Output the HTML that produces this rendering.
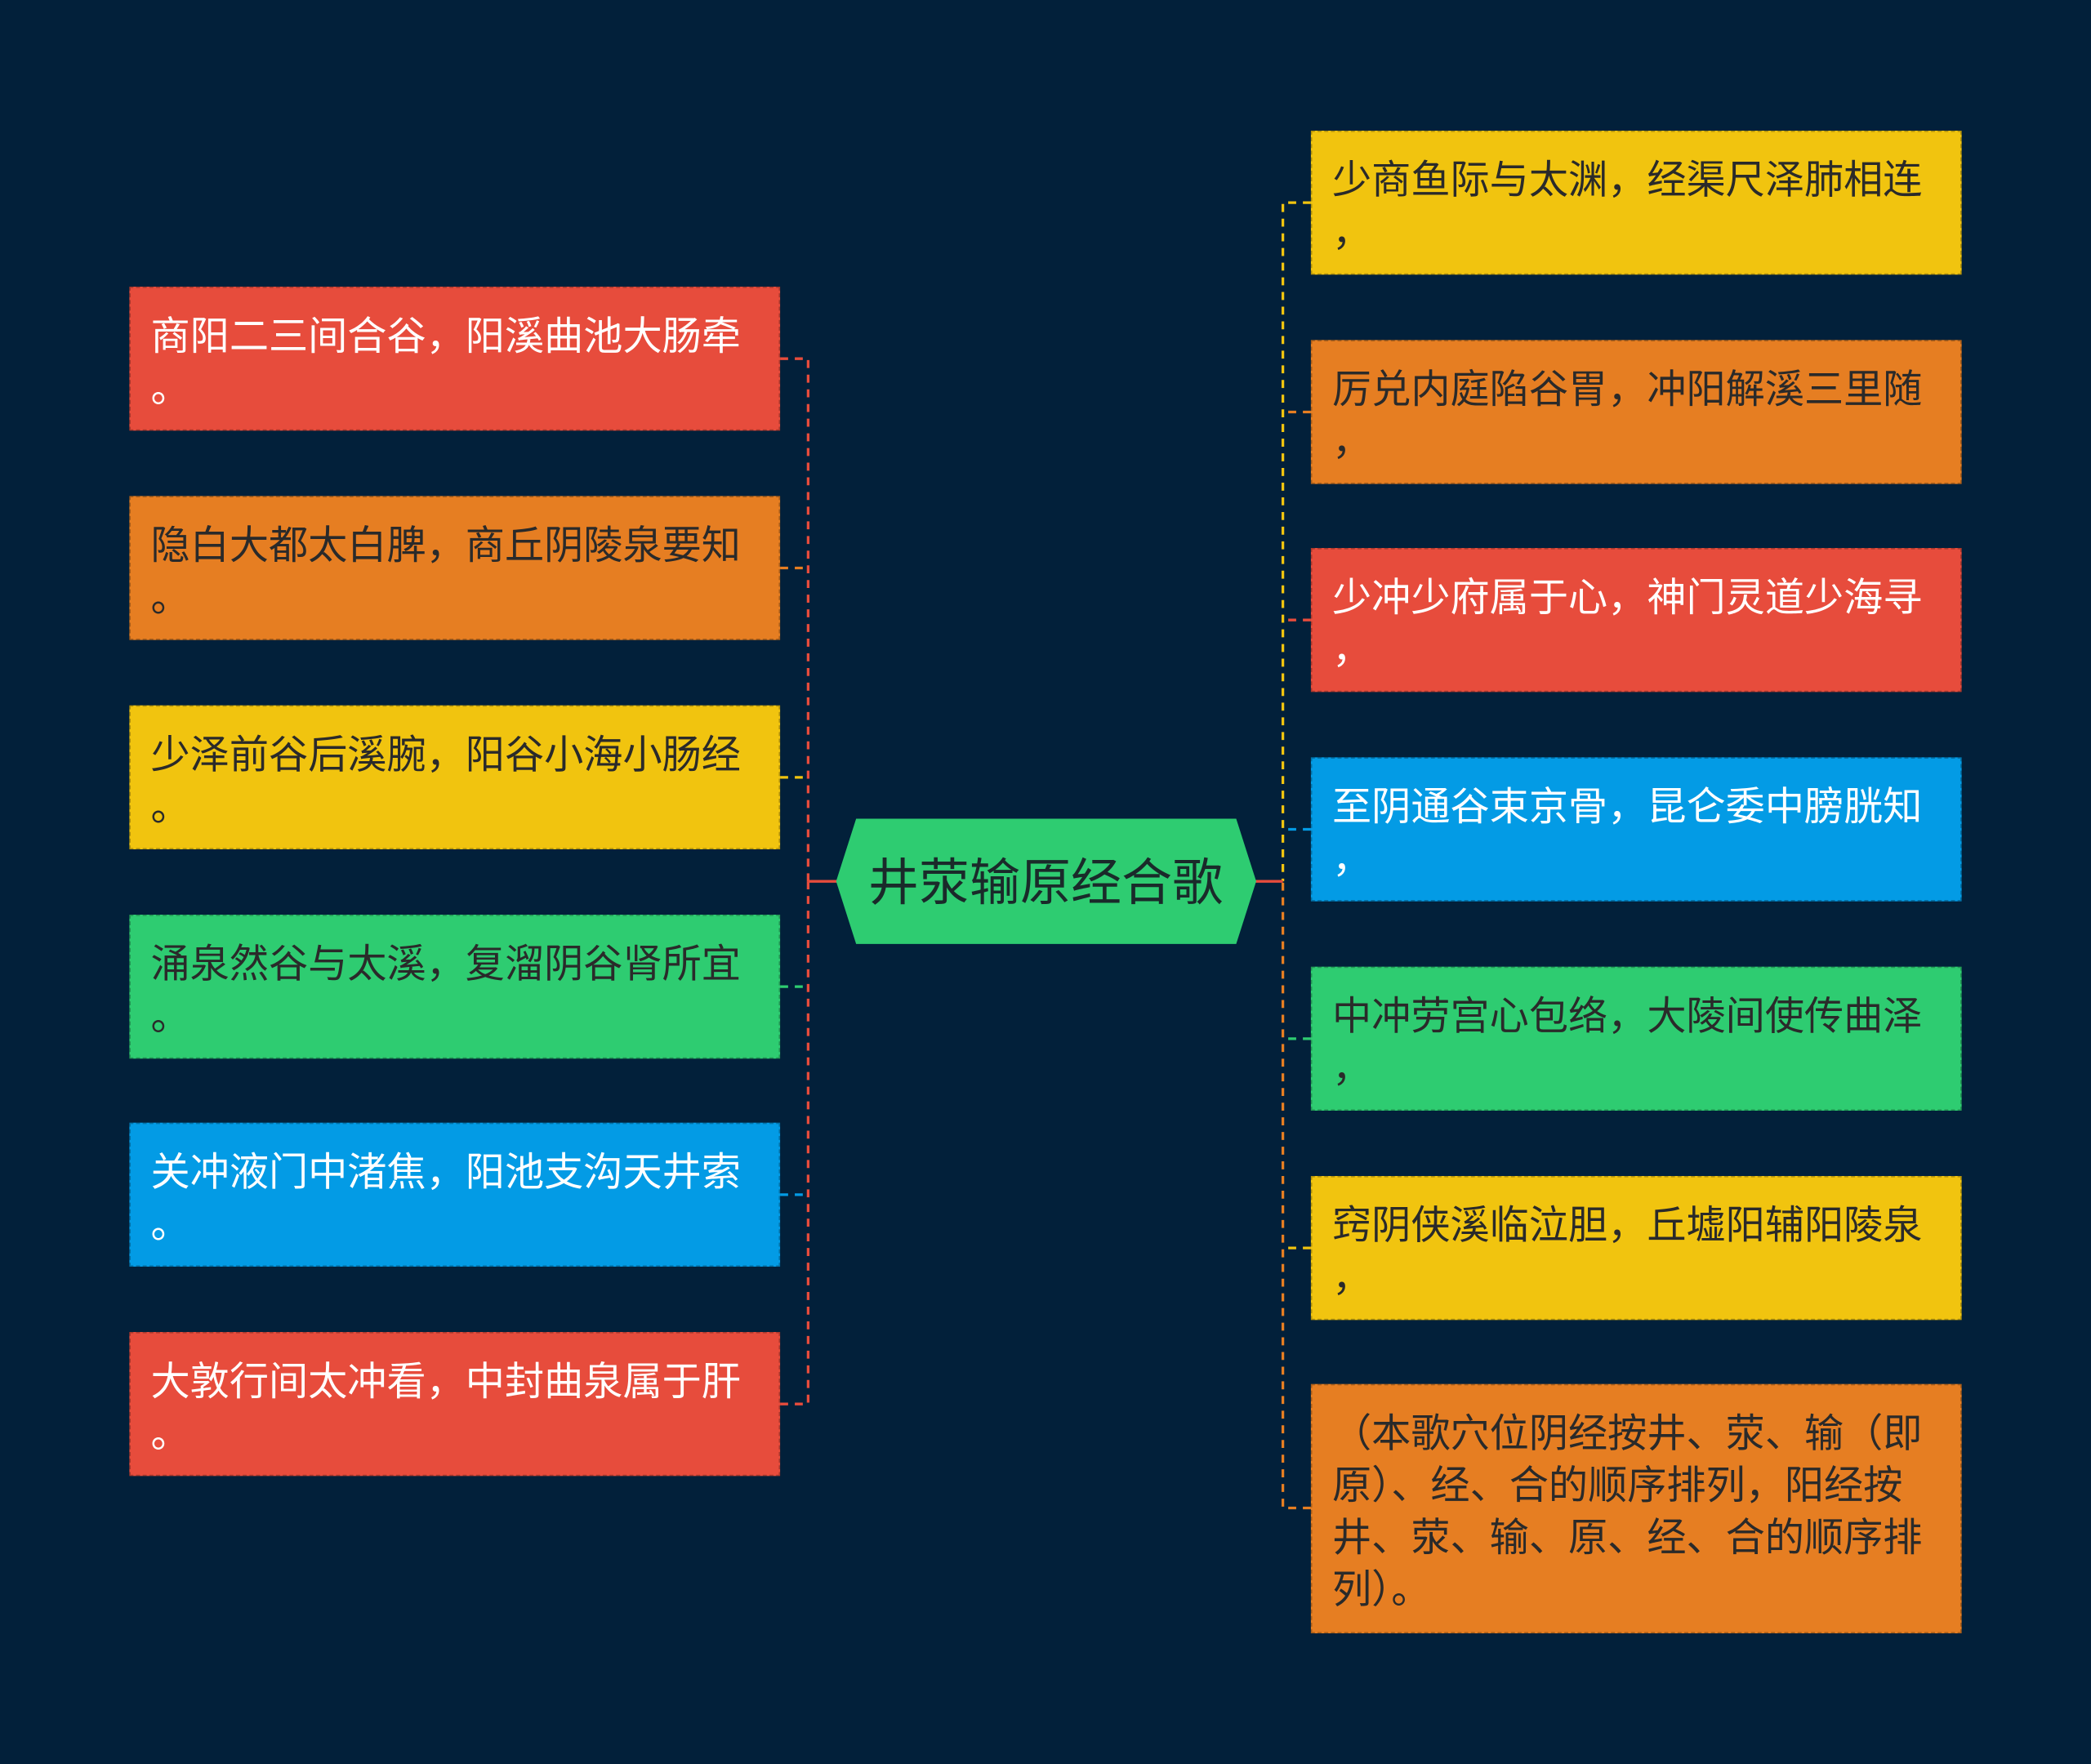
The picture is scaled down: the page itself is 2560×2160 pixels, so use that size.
<!DOCTYPE html>
<html><head><meta charset="utf-8"><style>
html,body{margin:0;padding:0;background:#02203a;width:2560px;height:2160px;overflow:hidden}
#w{position:absolute;left:0;top:0;width:1568px;height:1323px;transform:scale(1.63265);transform-origin:0 0;background:#02203a}
.b{position:absolute;box-sizing:border-box;width:488px;padding:17px 15px 0 15px;font:29.5px/39px "Liberation Sans","Noto Sans CJK SC",sans-serif;border:1.5px dashed rgba(0,0,0,0.25);white-space:nowrap;overflow:hidden}
.r{background:#e74c3c;color:#fff}.o{background:#e67e22;color:#2a2a2a}.y{background:#f1c40f;color:#2a2a2a}.g{background:#2ecc71;color:#2a2a2a}.u{background:#039be5;color:#fff}
.L{left:97px;height:108px}.R{left:983px;height:108px}
</style></head><body><div id="w">
<svg width="1568" height="1323" style="position:absolute;left:0;top:0">
<g fill="none" stroke-width="2" stroke-dasharray="6,5">
<path d="M585 269H606V661" stroke="#e74c3c"/>
<path d="M585 426H606" stroke="#e67e22"/>
<path d="M585 583H606" stroke="#f1c40f"/>
<path d="M585 740H606" stroke="#2ecc71"/>
<path d="M585 896H606" stroke="#039be5"/>
<path d="M585 1053H606V661" stroke="#e74c3c"/>
<path d="M983 152H962V661" stroke="#f1c40f"/>
<path d="M983 309H962" stroke="#e67e22"/>
<path d="M983 465H962" stroke="#e74c3c"/>
<path d="M983 622H962" stroke="#039be5"/>
<path d="M983 779H962" stroke="#2ecc71"/>
<path d="M983 936H962" stroke="#f1c40f"/>
<path d="M983 1131H962V661" stroke="#e67e22"/>
</g>
<path d="M606 661H630M940 661H962" stroke="#e74c3c" stroke-width="2"/>
<polygon points="642,614 927,614 942,661 927,708 642,708 627,661" fill="#2ecc71"/>
<text x="784" y="675" text-anchor="middle" font-family="Liberation Sans,Noto Sans CJK SC,sans-serif" font-size="38" fill="#1a2a2a">井荥输原经合歌</text>
</svg>
<div class="b L r" style="top:215px">商阳二三间合谷，阳溪曲池大肠牵<br>。</div>
<div class="b L o" style="top:372px">隐白大都太白脾，商丘阴陵泉要知<br>。</div>
<div class="b L y" style="top:529px">少泽前谷后溪腕，阳谷小海小肠经<br>。</div>
<div class="b L g" style="top:686px">涌泉然谷与太溪，复溜阴谷肾所宜<br>。</div>
<div class="b L u" style="top:842px">关冲液门中渚焦，阳池支沟天井索<br>。</div>
<div class="b L r" style="top:999px">大敦行间太冲看，中封曲泉属于肝<br>。</div>
<div class="b R y" style="top:98px">少商鱼际与太渊，经渠尺泽肺相连<br>，</div>
<div class="b R o" style="top:255px">厉兑内庭陷谷胃，冲阳解溪三里随<br>，</div>
<div class="b R r" style="top:411px">少冲少府属于心，神门灵道少海寻<br>，</div>
<div class="b R u" style="top:568px">至阴通谷束京骨，昆仑委中膀胱知<br>，</div>
<div class="b R g" style="top:725px">中冲劳宫心包络，大陵间使传曲泽<br>，</div>
<div class="b R y" style="top:882px">窍阴侠溪临泣胆，丘墟阳辅阳陵泉<br>，</div>
<div class="b R o" style="top:1038px;height:187px;padding-top:17px">（本歌穴位阴经按井、荥、输（即<br>原）、经、合的顺序排列，阳经按<br>井、荥、输、原、经、合的顺序排<br>列）。</div>
</div></body></html>
